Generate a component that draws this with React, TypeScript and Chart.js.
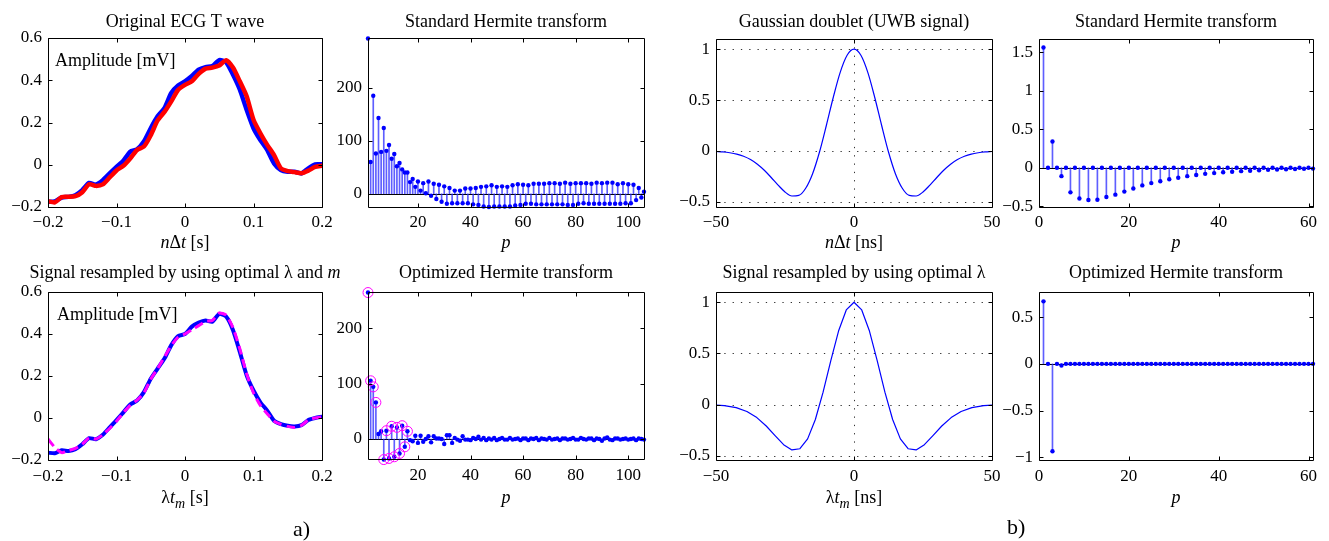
import React, { useEffect, useRef } from 'react';
import { Chart, registerables } from 'chart.js';

Chart.register(...registerables);

const PAGE_W = 1329;
const PAGE_H = 541;
const SERIF = "'Liberation Serif', 'Times New Roman', Times, serif";

// ---------------- ECG T wave (panel a) ----------------
const ecgTime = [
  -0.2, -0.19, -0.18, -0.17, -0.16, -0.15, -0.14, -0.13, -0.12, -0.11,
  -0.1, -0.09, -0.08, -0.07, -0.06, -0.05, -0.04, -0.03, -0.02, -0.01,
  0, 0.01, 0.02, 0.03, 0.04, 0.05, 0.06, 0.07, 0.08, 0.09,
  0.1, 0.11, 0.12, 0.13, 0.14, 0.15, 0.16, 0.17, 0.18, 0.19, 0.2,
];
const ecgOriginalBlue = [
  -0.176, -0.173, -0.155, -0.152, -0.144, -0.12, -0.086, -0.094, -0.073, -0.041,
  -0.01, 0.019, 0.062, 0.073, 0.11, 0.173, 0.229, 0.268, 0.34, 0.375,
  0.395, 0.42, 0.45, 0.462, 0.467, 0.495, 0.486, 0.427, 0.356, 0.26,
  0.173, 0.117, 0.07, 0.006, -0.025, -0.033, -0.033, -0.041, -0.017, 0.002, 0.002,
];
const ecgOriginalRed = [
  -0.173, -0.178, -0.153, -0.152, -0.149, -0.13, -0.092, -0.1, -0.093, -0.06,
  -0.027, -0.005, 0.03, 0.07, 0.086, 0.14, 0.21, 0.25, 0.3, 0.355,
  0.378, 0.395, 0.43, 0.455, 0.46, 0.47, 0.495, 0.46, 0.395, 0.324,
  0.213, 0.149, 0.094, 0.046, -0.017, -0.03, -0.035, -0.04, -0.028, -0.01, -0.005,
];
const ecgResampledBlue = [
  -0.165, -0.168, -0.154, -0.157, -0.149, -0.125, -0.096, -0.101, -0.08, -0.045,
  -0.01, 0.027, 0.064, 0.083, 0.123, 0.187, 0.235, 0.283, 0.347, 0.39,
  0.4, 0.435, 0.454, 0.464, 0.459, 0.496, 0.483, 0.419, 0.315, 0.203,
  0.131, 0.075, 0.035, -0.013, -0.029, -0.037, -0.04, -0.034, -0.01, 0.0, 0.006,
];
const ecgApproxMagenta = [
  -0.1, -0.14, -0.165, -0.155, -0.145, -0.125, -0.095, -0.1, -0.08, -0.05,
  -0.015, 0.025, 0.06, 0.085, 0.12, 0.185, 0.235, 0.29, 0.345, 0.385,
  0.4, 0.42, 0.44, 0.46, 0.465, 0.5, 0.49, 0.43, 0.33, 0.21,
  0.12, 0.06, 0.02, -0.015, -0.03, -0.04, -0.045, -0.035, -0.01, 0.0, 0.005,
];
const ecgXTicks = [-0.2, -0.1, 0, 0.1, 0.2];
const ecgXTickLabels = ['−0.2', '−0.1', '0', '0.1', '0.2'];
const ecgYTicks = [-0.2, 0, 0.2, 0.4, 0.6];
const ecgYTickLabels = ['−0.2', '0', '0.2', '0.4', '0.6'];

// Hermite coefficients of the ECG (p = 1..106)
const ecgOrders = Array.from({ length: 106 }, (_, k) => k + 1);
const ecgStdCoefs = [
  293, 60, 185, 76, 143, 79, 124, 81, 92, 66,
  75, 52, 58, 46, 40, 40, 22, 28, 13, 23,
  6, 20, 1, 23, -4, 19, -10, 17, -15, 14,
  -19, 11, -18, 6, -18, 6, -18, 10, -18, 10,
  -20, 11, -21, 13, -24, 14, -25, 16, -24, 13,
  -24, 14, -24, 13, -24, 16, -22, 18, -21, 17,
  -19, 16, -19, 19, -20, 19, -20, 19, -20, 20,
  -20, 20, -20, 19, -20, 21, -21, 19, -21, 20,
  -19, 20, -18, 20, -19, 19, -19, 21, -19, 20,
  -19, 21, -19, 21, -19, 18, -19, 20, -18, 18,
  -18, 17, -12, 11, -7, 4,
];
const ecgOptCoefs = [
  264, 105, 94, 66, 9, 14, -37, 15, -35, 23,
  -32, 21, -26, 24, -14, 14, -2, -4, 6, -7,
  6, -5, 0, 5, -6, 5, 1, 1, 0, -9,
  7, 7, -7, 2, -1, -3, 5, -1, -1, -2,
  2, 0, 4, -1, 2, -2, 1, -1, 2, -2,
  0, 2, -1, -1, 2, -1, 0, 1, -2, 1,
  1, -2, 1, 0, 2, -2, 1, 0, -1, 2,
  -1, 0, 1, -2, 1, 1, -1, 0, 2, -1,
  -1, 2, 0, -1, 1, 1, -2, 1, 0, -3,
  1, 3, -1, -2, 1, 1, -1, 0, 1, -1,
  0, 1, -2, 1, 0, -1,
];
const ecgOptSelected = [1, 2, 3, 4, 7, 8, 9, 10, 11, 12, 13, 14, 15, 16];
const ecgCoefXTicks = [20, 40, 60, 80, 100];
const ecgCoefXTickLabels = ['20', '40', '60', '80', '100'];
const ecgCoefYTicks = [0, 100, 200];
const ecgCoefYTickLabels = ['0', '100', '200'];

// ---------------- UWB Gaussian doublet (panel b) ----------------
const uwbTime = [
  -50, -47.5, -45, -42.5, -40, -37.5, -35, -32.5, -30, -27.5,
  -25, -22.5, -20, -17.5, -15, -12.5, -10, -7.5, -5, -2.5,
  0, 2.5, 5, 7.5, 10, 12.5, 15, 17.5, 20, 22.5,
  25, 27.5, 30, 32.5, 35, 37.5, 40, 42.5, 45, 47.5, 50,
];
const uwbSignal = [
  -0.005, -0.009, -0.017, -0.03, -0.052, -0.084, -0.13, -0.189, -0.26, -0.335,
  -0.402, -0.442, -0.436, -0.366, -0.223, -0.01, 0.253, 0.528, 0.772, 0.94,
  1.0, 0.94, 0.772, 0.528, 0.253, -0.01, -0.223, -0.366, -0.436, -0.442,
  -0.402, -0.335, -0.26, -0.189, -0.13, -0.084, -0.052, -0.03, -0.017, -0.009, -0.005,
];
const uwbResampledTime = [
  -50, -47, -42.7, -38.8, -35.2, -31.8, -28.6, -25.5, -22.5, -19.6, -16.8,
  -14, -11.2, -8.4, -5.6, -2.8, 0, 2.8, 5.6, 8.4, 11.2, 14,
  16.8, 19.6, 22.5, 25.5, 28.6, 31.8, 35.2, 38.8, 42.7, 47, 50,
];
const uwbResampledSignal = [
  -0.005, -0.01, -0.029, -0.066, -0.126, -0.208, -0.302, -0.39, -0.442, -0.43, -0.334,
  -0.145, 0.122, 0.43, 0.719, 0.925, 1.0, 0.925, 0.719, 0.43, 0.122, -0.145,
  -0.334, -0.43, -0.442, -0.39, -0.302, -0.208, -0.126, -0.066, -0.029, -0.01, -0.005,
];
const uwbXTicks = [-50, 0, 50];
const uwbXTickLabels = ['−50', '0', '50'];
const uwbYTicks = [-0.5, 0, 0.5, 1];
const uwbYTickLabels = ['−0.5', '0', '0.5', '1'];

// Hermite coefficients of the UWB pulse (p = 1..61)
const uwbOrders = Array.from({ length: 61 }, (_, k) => k + 1);
const uwbStdCoefs = [
  1.56, 0, 0.34, 0, -0.11, 0, -0.32, 0, -0.4, 0,
  -0.42, 0, -0.415, 0, -0.38, 0, -0.35, 0, -0.31, 0,
  -0.27, 0, -0.23, 0, -0.2, 0, -0.175, 0, -0.15, 0,
  -0.13, 0, -0.11, 0, -0.095, 0, -0.08, 0, -0.07, 0,
  -0.06, 0, -0.052, 0, -0.045, 0, -0.04, 0, -0.034, 0,
  -0.028, 0, -0.024, 0, -0.02, 0, -0.017, 0, -0.014, 0,
  -0.012,
];
const uwbOptCoefs = [
  0.67, 0, -0.936, 0, -0.018, 0, 0, 0, 0, 0,
  0, 0, 0, 0, 0, 0, 0, 0, 0, 0,
  0, 0, 0, 0, 0, 0, 0, 0, 0, 0,
  0, 0, 0, 0, 0, 0, 0, 0, 0, 0,
  0, 0, 0, 0, 0, 0, 0, 0, 0, 0,
  0, 0, 0, 0, 0, 0, 0, 0, 0, 0,
  0,
];
const uwbCoefXTicks = [0, 20, 40, 60];
const uwbCoefXTickLabels = ['0', '20', '40', '60'];
const uwbStdYTicks = [-0.5, 0, 0.5, 1, 1.5];
const uwbStdYTickLabels = ['−0.5', '0', '0.5', '1', '1.5'];
const uwbOptYTicks = [-1, -0.5, 0, 0.5];
const uwbOptYTickLabels = ['−1', '−0.5', '0', '0.5'];

// ---------------- layout helpers ----------------
const Y_AXIS_W = 45;
const X_AXIS_H = 30;

type Seg = { t: string; i?: boolean; sub?: boolean };
type Note = { t: string; x: number; y: number; size: number };

interface PanelSpec {
  kind: 'line' | 'stem';
  area: [number, number, number, number];
  xRange: [number, number];
  yRange: [number, number];
  xTicks: number[];
  xLabels: string[];
  yTicks: number[];
  yLabels: string[];
  tickPadX: number;
  title: Seg[];
  titleBase: number;
  xlabel: Seg[];
  xlabelBase: number;
  grid?: boolean;
  zeroLine?: boolean;
  notes?: Note[];
  datasets: any[];
}

const xy = (xs: number[], ys: number[]) => xs.map((x, k) => ({ x, y: ys[k] }));

function lineDs(xs: number[], ys: number[], color: string, width: number, extra: any = {}) {
  return {
    type: 'line',
    data: xy(xs, ys),
    borderColor: color,
    borderWidth: width,
    pointRadius: 0,
    fill: false,
    borderJoinStyle: 'round',
    borderCapStyle: 'round',
    ...extra,
  };
}

function stemDatasets(xs: number[], ys: number[]) {
  return [
    {
      type: 'line',
      data: xy(xs, ys),
      showLine: false,
      pointRadius: 2.2,
      pointBackgroundColor: '#0000ff',
      pointBorderWidth: 0,
      clip: false,
    },
    {
      type: 'bar',
      data: xy(xs, ys),
      backgroundColor: 'rgba(40,40,255,0.75)',
      borderWidth: 0,
      barThickness: 1,
    },
  ];
}

const nDt = (unit: string): Seg[] => [{ t: 'n', i: true }, { t: 'Δ' }, { t: 't', i: true }, { t: ' [' + unit + ']' }];
const lamTm = (unit: string): Seg[] => [{ t: 'λ' }, { t: 't', i: true }, { t: 'm', i: true, sub: true }, { t: ' [' + unit + ']' }];
const pLabel: Seg[] = [{ t: 'p', i: true }];

const TOP_TITLE = 27;
const BOT_TITLE = 278;
const TOP_XLABEL = 248;
const BOT_XLABEL = 503;

const panels: PanelSpec[] = [
  {
    kind: 'line', area: [48, 38, 322, 207], xRange: [-0.2, 0.2], yRange: [-0.2, 0.6],
    xTicks: ecgXTicks, xLabels: ecgXTickLabels, yTicks: ecgYTicks, yLabels: ecgYTickLabels, tickPadX: 5,
    title: [{ t: 'Original ECG T wave' }], titleBase: TOP_TITLE, xlabel: nDt('s'), xlabelBase: TOP_XLABEL,
    notes: [{ t: 'Amplitude [mV]', x: 55, y: 66, size: 18 }],
    datasets: [
      lineDs(ecgTime, ecgOriginalRed, '#ff0000', 4.5, { tension: 0.2 }),
      lineDs(ecgTime, ecgOriginalBlue, '#0000ff', 4.5, { tension: 0.2 }),
    ],
  },
  {
    kind: 'stem', area: [368, 38, 644, 207], xRange: [1, 106], yRange: [-25, 294],
    xTicks: ecgCoefXTicks, xLabels: ecgCoefXTickLabels, yTicks: ecgCoefYTicks, yLabels: ecgCoefYTickLabels, tickPadX: 5,
    title: [{ t: 'Standard Hermite transform' }], titleBase: TOP_TITLE, xlabel: pLabel, xlabelBase: TOP_XLABEL,
    zeroLine: true,
    datasets: stemDatasets(ecgOrders, ecgStdCoefs),
  },
  {
    kind: 'line', area: [716, 39, 992, 207], xRange: [-50, 50], yRange: [-0.55, 1.1],
    xTicks: uwbXTicks, xLabels: uwbXTickLabels, yTicks: uwbYTicks, yLabels: uwbYTickLabels, tickPadX: 5,
    title: [{ t: 'Gaussian doublet (UWB signal)' }], titleBase: TOP_TITLE, xlabel: nDt('ns'), xlabelBase: TOP_XLABEL,
    grid: true,
    datasets: [lineDs(uwbTime, uwbSignal, '#0000ff', 1.2, { cubicInterpolationMode: 'monotone' })],
  },
  {
    kind: 'stem', area: [1039, 39, 1313, 207], xRange: [0, 61], yRange: [-0.51, 1.67],
    xTicks: uwbCoefXTicks, xLabels: uwbCoefXTickLabels, yTicks: uwbStdYTicks, yLabels: uwbStdYTickLabels, tickPadX: 5,
    title: [{ t: 'Standard Hermite transform' }], titleBase: TOP_TITLE, xlabel: pLabel, xlabelBase: TOP_XLABEL,
    zeroLine: true,
    datasets: stemDatasets(uwbOrders, uwbStdCoefs),
  },
  {
    kind: 'line', area: [48, 292, 322, 460], xRange: [-0.2, 0.2], yRange: [-0.2, 0.6],
    xTicks: ecgXTicks, xLabels: ecgXTickLabels, yTicks: ecgYTicks, yLabels: ecgYTickLabels, tickPadX: 6,
    title: [{ t: 'Signal resampled by using optimal λ and ' }, { t: 'm', i: true }], titleBase: BOT_TITLE,
    xlabel: lamTm('s'), xlabelBase: BOT_XLABEL,
    notes: [
      { t: 'Amplitude [mV]', x: 57, y: 320, size: 18 },
      { t: 'a)', x: 293, y: 536, size: 22 },
    ],
    datasets: [
      lineDs(ecgTime, ecgApproxMagenta, '#ff00ff', 3, { tension: 0.2, borderDash: [9, 5], borderCapStyle: 'butt' }),
      lineDs(ecgTime, ecgResampledBlue, '#0000ff', 4, { tension: 0.2 }),
    ],
  },
  {
    kind: 'stem', area: [368, 292, 644, 459], xRange: [1, 106], yRange: [-36, 265],
    xTicks: ecgCoefXTicks, xLabels: ecgCoefXTickLabels, yTicks: ecgCoefYTicks, yLabels: ecgCoefYTickLabels, tickPadX: 6,
    title: [{ t: 'Optimized Hermite transform' }], titleBase: BOT_TITLE, xlabel: pLabel, xlabelBase: BOT_XLABEL,
    zeroLine: true,
    datasets: [
      {
        type: 'line',
        data: ecgOptSelected.map((p) => ({ x: p, y: ecgOptCoefs[p - 1] })),
        showLine: false,
        pointRadius: 5,
        pointBackgroundColor: 'rgba(0,0,0,0)',
        pointBorderColor: '#ff00ff',
        pointBorderWidth: 1,
        clip: false,
      },
      ...stemDatasets(ecgOrders, ecgOptCoefs),
    ],
  },
  {
    kind: 'line', area: [716, 292, 992, 460], xRange: [-50, 50], yRange: [-0.54, 1.1],
    xTicks: uwbXTicks, xLabels: uwbXTickLabels, yTicks: uwbYTicks, yLabels: uwbYTickLabels, tickPadX: 6,
    title: [{ t: 'Signal resampled by using optimal λ' }], titleBase: BOT_TITLE, xlabel: lamTm('ns'), xlabelBase: BOT_XLABEL,
    grid: true,
    datasets: [lineDs(uwbResampledTime, uwbResampledSignal, '#0000ff', 1.2, { tension: 0 })],
  },
  {
    kind: 'stem', area: [1039, 292, 1313, 460], xRange: [0, 61], yRange: [-1.03, 0.77],
    xTicks: uwbCoefXTicks, xLabels: uwbCoefXTickLabels, yTicks: uwbOptYTicks, yLabels: uwbOptYTickLabels, tickPadX: 6,
    title: [{ t: 'Optimized Hermite transform' }], titleBase: BOT_TITLE, xlabel: pLabel, xlabelBase: BOT_XLABEL,
    zeroLine: true,
    notes: [{ t: 'b)', x: 1007, y: 534, size: 22 }],
    datasets: stemDatasets(uwbOrders, uwbOptCoefs),
  },
];

function drawRich(ctx: CanvasRenderingContext2D, segs: Seg[], cx: number, base: number, size: number) {
  const fontFor = (s: Seg) => `${s.i ? 'italic ' : ''}${s.sub ? Math.round(size * 0.75) : size}px ${SERIF}`;
  let total = 0;
  const widths = segs.map((s) => {
    ctx.font = fontFor(s);
    const w = ctx.measureText(s.t).width;
    total += w;
    return w;
  });
  let x = cx - total / 2;
  ctx.textAlign = 'left';
  ctx.textBaseline = 'alphabetic';
  ctx.fillStyle = '#000';
  segs.forEach((s, k) => {
    ctx.font = fontFor(s);
    ctx.fillText(s.t, x, base + (s.sub ? 5 : 0));
    x += widths[k];
  });
}

function framePlugin(s: PanelSpec) {
  return {
    id: 'matlabFrame',
    beforeDatasetsDraw(chart: any) {
      const { ctx, chartArea: a } = chart;
      const xs = chart.scales.x;
      const ys = chart.scales.y;
      ctx.save();
      ctx.lineWidth = 1;
      if (s.grid) {
        ctx.strokeStyle = '#333';
        ctx.setLineDash([1.3, 7]);
        ctx.beginPath();
        s.xTicks.forEach((v) => {
          const px = Math.round(xs.getPixelForValue(v)) + 0.5;
          if (px > a.left + 2 && px < a.right - 2) {
            ctx.moveTo(px, a.top);
            ctx.lineTo(px, a.bottom);
          }
        });
        s.yTicks.forEach((v) => {
          const py = Math.round(ys.getPixelForValue(v)) + 0.5;
          if (py > a.top + 2 && py < a.bottom - 2) {
            ctx.moveTo(a.left, py);
            ctx.lineTo(a.right, py);
          }
        });
        ctx.stroke();
        ctx.setLineDash([]);
      }
      if (s.zeroLine) {
        ctx.strokeStyle = '#000';
        const py = Math.round(ys.getPixelForValue(0)) + 0.5;
        ctx.beginPath();
        ctx.moveTo(a.left, py);
        ctx.lineTo(a.right, py);
        ctx.stroke();
      }
      ctx.restore();
    },
    afterDraw(chart: any) {
      const { ctx, chartArea: a } = chart;
      const xs = chart.scales.x;
      const ys = chart.scales.y;
      const L = Math.round(a.left) + 0.5;
      const R = Math.round(a.right) + 0.5;
      const T = Math.round(a.top) + 0.5;
      const B = Math.round(a.bottom) + 0.5;
      const tick = 4;
      ctx.save();
      ctx.strokeStyle = '#000';
      ctx.lineWidth = 1;
      ctx.beginPath();
      ctx.rect(L, T, R - L, B - T);
      s.xTicks.forEach((v) => {
        const px = Math.round(xs.getPixelForValue(v)) + 0.5;
        ctx.moveTo(px, B);
        ctx.lineTo(px, B - tick);
        ctx.moveTo(px, T);
        ctx.lineTo(px, T + tick);
      });
      s.yTicks.forEach((v) => {
        const py = Math.round(ys.getPixelForValue(v)) + 0.5;
        ctx.moveTo(L, py);
        ctx.lineTo(L + tick, py);
        ctx.moveTo(R, py);
        ctx.lineTo(R - tick, py);
      });
      ctx.stroke();
      const cx = (a.left + a.right) / 2;
      drawRich(ctx, s.title, cx, s.titleBase, 18);
      drawRich(ctx, s.xlabel, cx, s.xlabelBase, 18);
      (s.notes || []).forEach((n) => {
        ctx.font = `${n.size}px ${SERIF}`;
        ctx.textAlign = 'left';
        ctx.textBaseline = 'alphabetic';
        ctx.fillStyle = '#000';
        ctx.fillText(n.t, n.x, n.y);
      });
      ctx.restore();
    },
  };
}

function labelFor(ticks: number[], labels: string[]) {
  return (v: any) => {
    const k = ticks.findIndex((q) => Math.abs(q - Number(v)) < 1e-9);
    return k >= 0 ? labels[k] : '';
  };
}

function buildConfig(s: PanelSpec): any {
  const [l, t, r, b] = s.area;
  const tickFont = { family: SERIF, size: 17 };
  return {
    type: s.kind === 'stem' ? 'bar' : 'line',
    data: { datasets: s.datasets },
    options: {
      responsive: false,
      animation: false,
      events: [],
      layout: { padding: { left: l - Y_AXIS_W, top: t, right: PAGE_W - r, bottom: PAGE_H - b - X_AXIS_H } },
      plugins: { legend: { display: false }, tooltip: { enabled: false }, title: { display: false } },
      scales: {
        x: {
          type: 'linear',
          min: s.xRange[0],
          max: s.xRange[1],
          offset: false,
          grid: { display: false, drawTicks: false },
          border: { display: false },
          afterBuildTicks: (sc: any) => {
            sc.ticks = s.xTicks.map((v) => ({ value: v }));
          },
          afterFit: (sc: any) => {
            sc.height = X_AXIS_H;
          },
          ticks: {
            autoSkip: false,
            maxRotation: 0,
            minRotation: 0,
            padding: s.tickPadX,
            color: '#000',
            font: tickFont,
            callback: labelFor(s.xTicks, s.xLabels),
          },
        },
        y: {
          type: 'linear',
          min: s.yRange[0],
          max: s.yRange[1],
          grid: { display: false, drawTicks: false },
          border: { display: false },
          afterBuildTicks: (sc: any) => {
            sc.ticks = s.yTicks.map((v) => ({ value: v }));
          },
          afterFit: (sc: any) => {
            sc.width = Y_AXIS_W;
          },
          ticks: {
            autoSkip: false,
            padding: 6,
            color: '#000',
            font: tickFont,
            callback: labelFor(s.yTicks, s.yLabels),
          },
        },
      },
    },
    plugins: [framePlugin(s)],
  };
}

function Panel({ spec }: { spec: PanelSpec }) {
  const ref = useRef<HTMLCanvasElement>(null);
  useEffect(() => {
    if (!ref.current) return;
    const chart = new Chart(ref.current, buildConfig(spec));
    return () => chart.destroy();
  }, [spec]);
  return (
    <canvas
      ref={ref}
      width={PAGE_W}
      height={PAGE_H}
      style={{ position: 'absolute', left: 0, top: 0, width: PAGE_W, height: PAGE_H }}
    />
  );
}

export default function App() {
  return (
    <div
      style={{
        position: 'absolute',
        left: 0,
        top: 0,
        width: PAGE_W,
        height: PAGE_H,
        background: '#ffffff',
        overflow: 'hidden',
      }}
    >
      {panels.map((p, k) => (
        <Panel key={k} spec={p} />
      ))}
    </div>
  );
}
